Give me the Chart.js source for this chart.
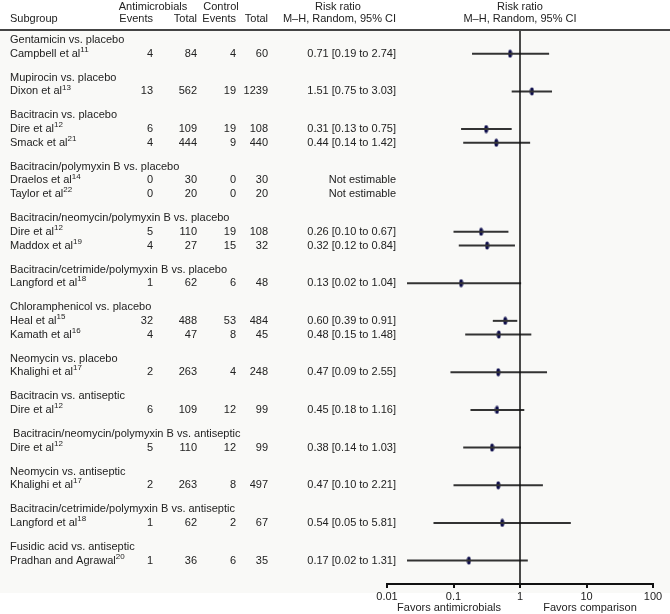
<!DOCTYPE html>
<html>
<head>
<meta charset="utf-8">
<script src="https://cdn.jsdelivr.net/npm/chart.js@4"></script>
<style>
  body { margin: 0; background: #ffffff; }
  canvas { display: block; }
</style>
</head>
<body>
<canvas id="forest" width="670" height="614"></canvas>
<script>
// Subgroup headers (comparisons)
const groupNames = [
    "Gentamicin vs. placebo",
    "Mupirocin vs. placebo",
    "Bacitracin vs. placebo",
    "Bacitracin/polymyxin B vs. placebo",
    "Bacitracin/neomycin/polymyxin B vs. placebo",
    "Bacitracin/cetrimide/polymyxin B vs. placebo",
    "Chloramphenicol vs. placebo",
    "Neomycin vs. placebo",
    "Bacitracin vs. antiseptic",
    " Bacitracin/neomycin/polymyxin B vs. antiseptic",
    "Neomycin vs. antiseptic",
    "Bacitracin/cetrimide/polymyxin B vs. antiseptic",
    "Fusidic acid vs. antiseptic"
];

// Studies, one entry per row
const studyNames = ["Campbell et al", "Dixon et al", "Dire et al", "Smack et al", "Draelos et al",
    "Taylor et al", "Dire et al", "Maddox et al", "Langford et al", "Heal et al", "Kamath et al",
    "Khalighi et al", "Dire et al", "Dire et al", "Khalighi et al", "Langford et al", "Pradhan and Agrawal"];
const studyRefs = ["11", "13", "12", "21", "14", "22", "12", "19", "18", "15", "16", "17", "12", "12", "17", "18", "20"];
const studyGroup = [0, 1, 2, 2, 3, 3, 4, 4, 5, 6, 6, 7, 8, 9, 10, 11, 12];

const abxEvents = [4, 13, 6, 4, 0, 0, 5, 4, 1, 32, 4, 2, 6, 5, 2, 1, 1];
const abxTotal = [84, 562, 109, 444, 30, 20, 110, 27, 62, 488, 47, 263, 109, 110, 263, 62, 36];
const ctlEvents = [4, 19, 19, 9, 0, 0, 19, 15, 6, 53, 8, 4, 12, 12, 8, 2, 6];
const ctlTotal = [60, 1239, 108, 440, 30, 20, 108, 32, 48, 484, 45, 248, 99, 99, 497, 67, 35];

// Risk ratio and 95% CI (null = not estimable)
const riskRatio = [0.71, 1.51, 0.31, 0.44, null, null, 0.26, 0.32, 0.13, 0.60, 0.48, 0.47, 0.45, 0.38, 0.47, 0.54, 0.17];
const ciLow = [0.19, 0.75, 0.13, 0.14, null, null, 0.10, 0.12, 0.02, 0.39, 0.15, 0.09, 0.18, 0.14, 0.10, 0.05, 0.02];
const ciHigh = [2.74, 3.03, 0.75, 1.42, null, null, 0.67, 0.84, 1.04, 0.91, 1.48, 2.55, 1.16, 1.03, 2.21, 5.81, 1.31];

// Axis ticks and labels
const xTicks = [0.01, 0.1, 1, 10, 100];
const favorLabels = ["Favors antimicrobials", "Favors comparison"];

// --- Row layout: a header row, then its studies, then a wider gap before the next header
const groupGap = 1.75;
const headerPos = [];
const studyPos = [];
let pos = 0;
groupNames.forEach((g, gi) => {
    if (gi > 0) pos += groupGap;
    headerPos[gi] = pos;
    studyGroup.forEach((sg, si) => {
        if (sg === gi) {
            pos += 1;
            studyPos[si] = pos;
        }
    });
});
const yMin = -0.73;
const yMax = yMin + 554 / 13.7;

const FONT = '"Liberation Sans", Arial, Helvetica, sans-serif';
const TEXT = '#222222';

// Small vertical oval used as the point estimate marker
const marker = document.createElement('canvas');
marker.width = 5;
marker.height = 9;
(function () {
    const m = marker.getContext('2d');
    m.fillStyle = '#0d0d4a';
    m.beginPath();
    m.ellipse(2.5, 4.5, 2, 4, 0, 0, Math.PI * 2);
    m.fill();
})();

// Datasets: reference line at RR = 1, one CI segment per study, and point estimates
const datasets = [{
    data: [{ x: 1, y: yMin }, { x: 1, y: yMax }],
    showLine: true,
    borderColor: '#111111',
    borderWidth: 1.5,
    pointRadius: 0
}];
studyNames.forEach((n, i) => {
    if (riskRatio[i] === null) return;
    datasets.push({
        data: [{ x: ciLow[i], y: studyPos[i] }, { x: ciHigh[i], y: studyPos[i] }],
        showLine: true,
        borderColor: '#333333',
        borderWidth: 2,
        pointRadius: 0
    });
});
datasets.push({
    data: studyNames.map((n, i) => ({ x: riskRatio[i], y: studyPos[i] })).filter(p => p.x !== null),
    pointStyle: marker,
    pointRadius: 4
});

// Plugin that draws the table columns, headers and the separator line
const tablePlugin = {
    id: 'forestTable',
    beforeDraw(chart) {
        const ctx = chart.ctx;
        ctx.save();
        ctx.fillStyle = '#ffffff';
        ctx.fillRect(0, 0, chart.width, chart.height);
        ctx.fillStyle = '#f9f9f7';
        ctx.fillRect(0, 31, chart.width, 562);
        ctx.restore();
    },
    afterDraw(chart) {
        const ctx = chart.ctx;
        const yScale = chart.scales.y;
        const area = chart.chartArea;
        ctx.save();
        ctx.fillStyle = TEXT;
        ctx.textBaseline = 'middle';
        ctx.font = '11px ' + FONT;

        function put(text, x, y, align) {
            ctx.textAlign = align;
            ctx.fillText(text, x, y);
        }

        // column headers
        put("Antimicrobials", 153, 7, 'center');
        put("Control", 221, 7, 'center');
        put("Risk ratio", 338, 7, 'center');
        put("Risk ratio", 520, 7, 'center');
        put("Subgroup", 10, 19, 'left');
        put("Events", 153, 19, 'right');
        put("Total", 197, 19, 'right');
        put("Events", 236, 19, 'right');
        put("Total", 268, 19, 'right');
        put("M\u2013H, Random, 95% CI", 396, 19, 'right');
        put("M\u2013H, Random, 95% CI", 520, 19, 'center');

        // subgroup headers
        groupNames.forEach((g, gi) => {
            put(g, 10, yScale.getPixelForValue(headerPos[gi]), 'left');
        });

        // study rows
        studyNames.forEach((n, i) => {
            const y = yScale.getPixelForValue(studyPos[i]);
            ctx.font = '11px ' + FONT;
            put(n, 10, y, 'left');
            const w = ctx.measureText(n).width;
            put(String(abxEvents[i]), 153, y, 'right');
            put(String(abxTotal[i]), 197, y, 'right');
            put(String(ctlEvents[i]), 236, y, 'right');
            put(String(ctlTotal[i]), 268, y, 'right');
            const ci = riskRatio[i] === null ? "Not estimable"
                : riskRatio[i].toFixed(2) + " [" + ciLow[i].toFixed(2) + " to " + ciHigh[i].toFixed(2) + "]";
            put(ci, 396, y, 'right');
            ctx.font = '8px ' + FONT;
            put(studyRefs[i], 10 + w, y - 4, 'left');
        });

        // favors labels under the axis
        ctx.font = '11px ' + FONT;
        put(favorLabels[0], 449, 608, 'center');
        put(favorLabels[1], 590, 608, 'center');

        // header separator
        ctx.strokeStyle = '#444444';
        ctx.lineWidth = 2;
        ctx.beginPath();
        ctx.moveTo(0, area.top);
        ctx.lineTo(chart.width, area.top);
        ctx.stroke();
        ctx.restore();
    }
};

new Chart(document.getElementById('forest'), {
    type: 'scatter',
    data: { datasets: datasets },
    options: {
        responsive: false,
        animation: false,
        layout: { padding: { left: 387, right: 17, top: 30, bottom: 0 } },
        plugins: {
            legend: { display: false },
            tooltip: { enabled: false }
        },
        scales: {
            x: {
                type: 'logarithmic',
                position: 'bottom',
                min: 0.01,
                max: 100,
                afterBuildTicks: (scale) => { scale.ticks = xTicks.map(v => ({ value: v })); },
                afterFit: (scale) => { scale.height = 30; },
                ticks: {
                    callback: (v) => String(v),
                    color: TEXT,
                    font: { family: FONT, size: 11 },
                    padding: 2,
                    maxRotation: 0,
                    autoSkip: false
                },
                grid: {
                    drawOnChartArea: false,
                    drawTicks: true,
                    tickLength: 4,
                    color: '#111111',
                    lineWidth: 2
                },
                border: { display: true, color: '#111111', width: 2 }
            },
            y: {
                type: 'linear',
                reverse: true,
                min: yMin,
                max: yMax,
                display: false
            }
        }
    },
    plugins: [tablePlugin]
});
</script>
</body>
</html>
